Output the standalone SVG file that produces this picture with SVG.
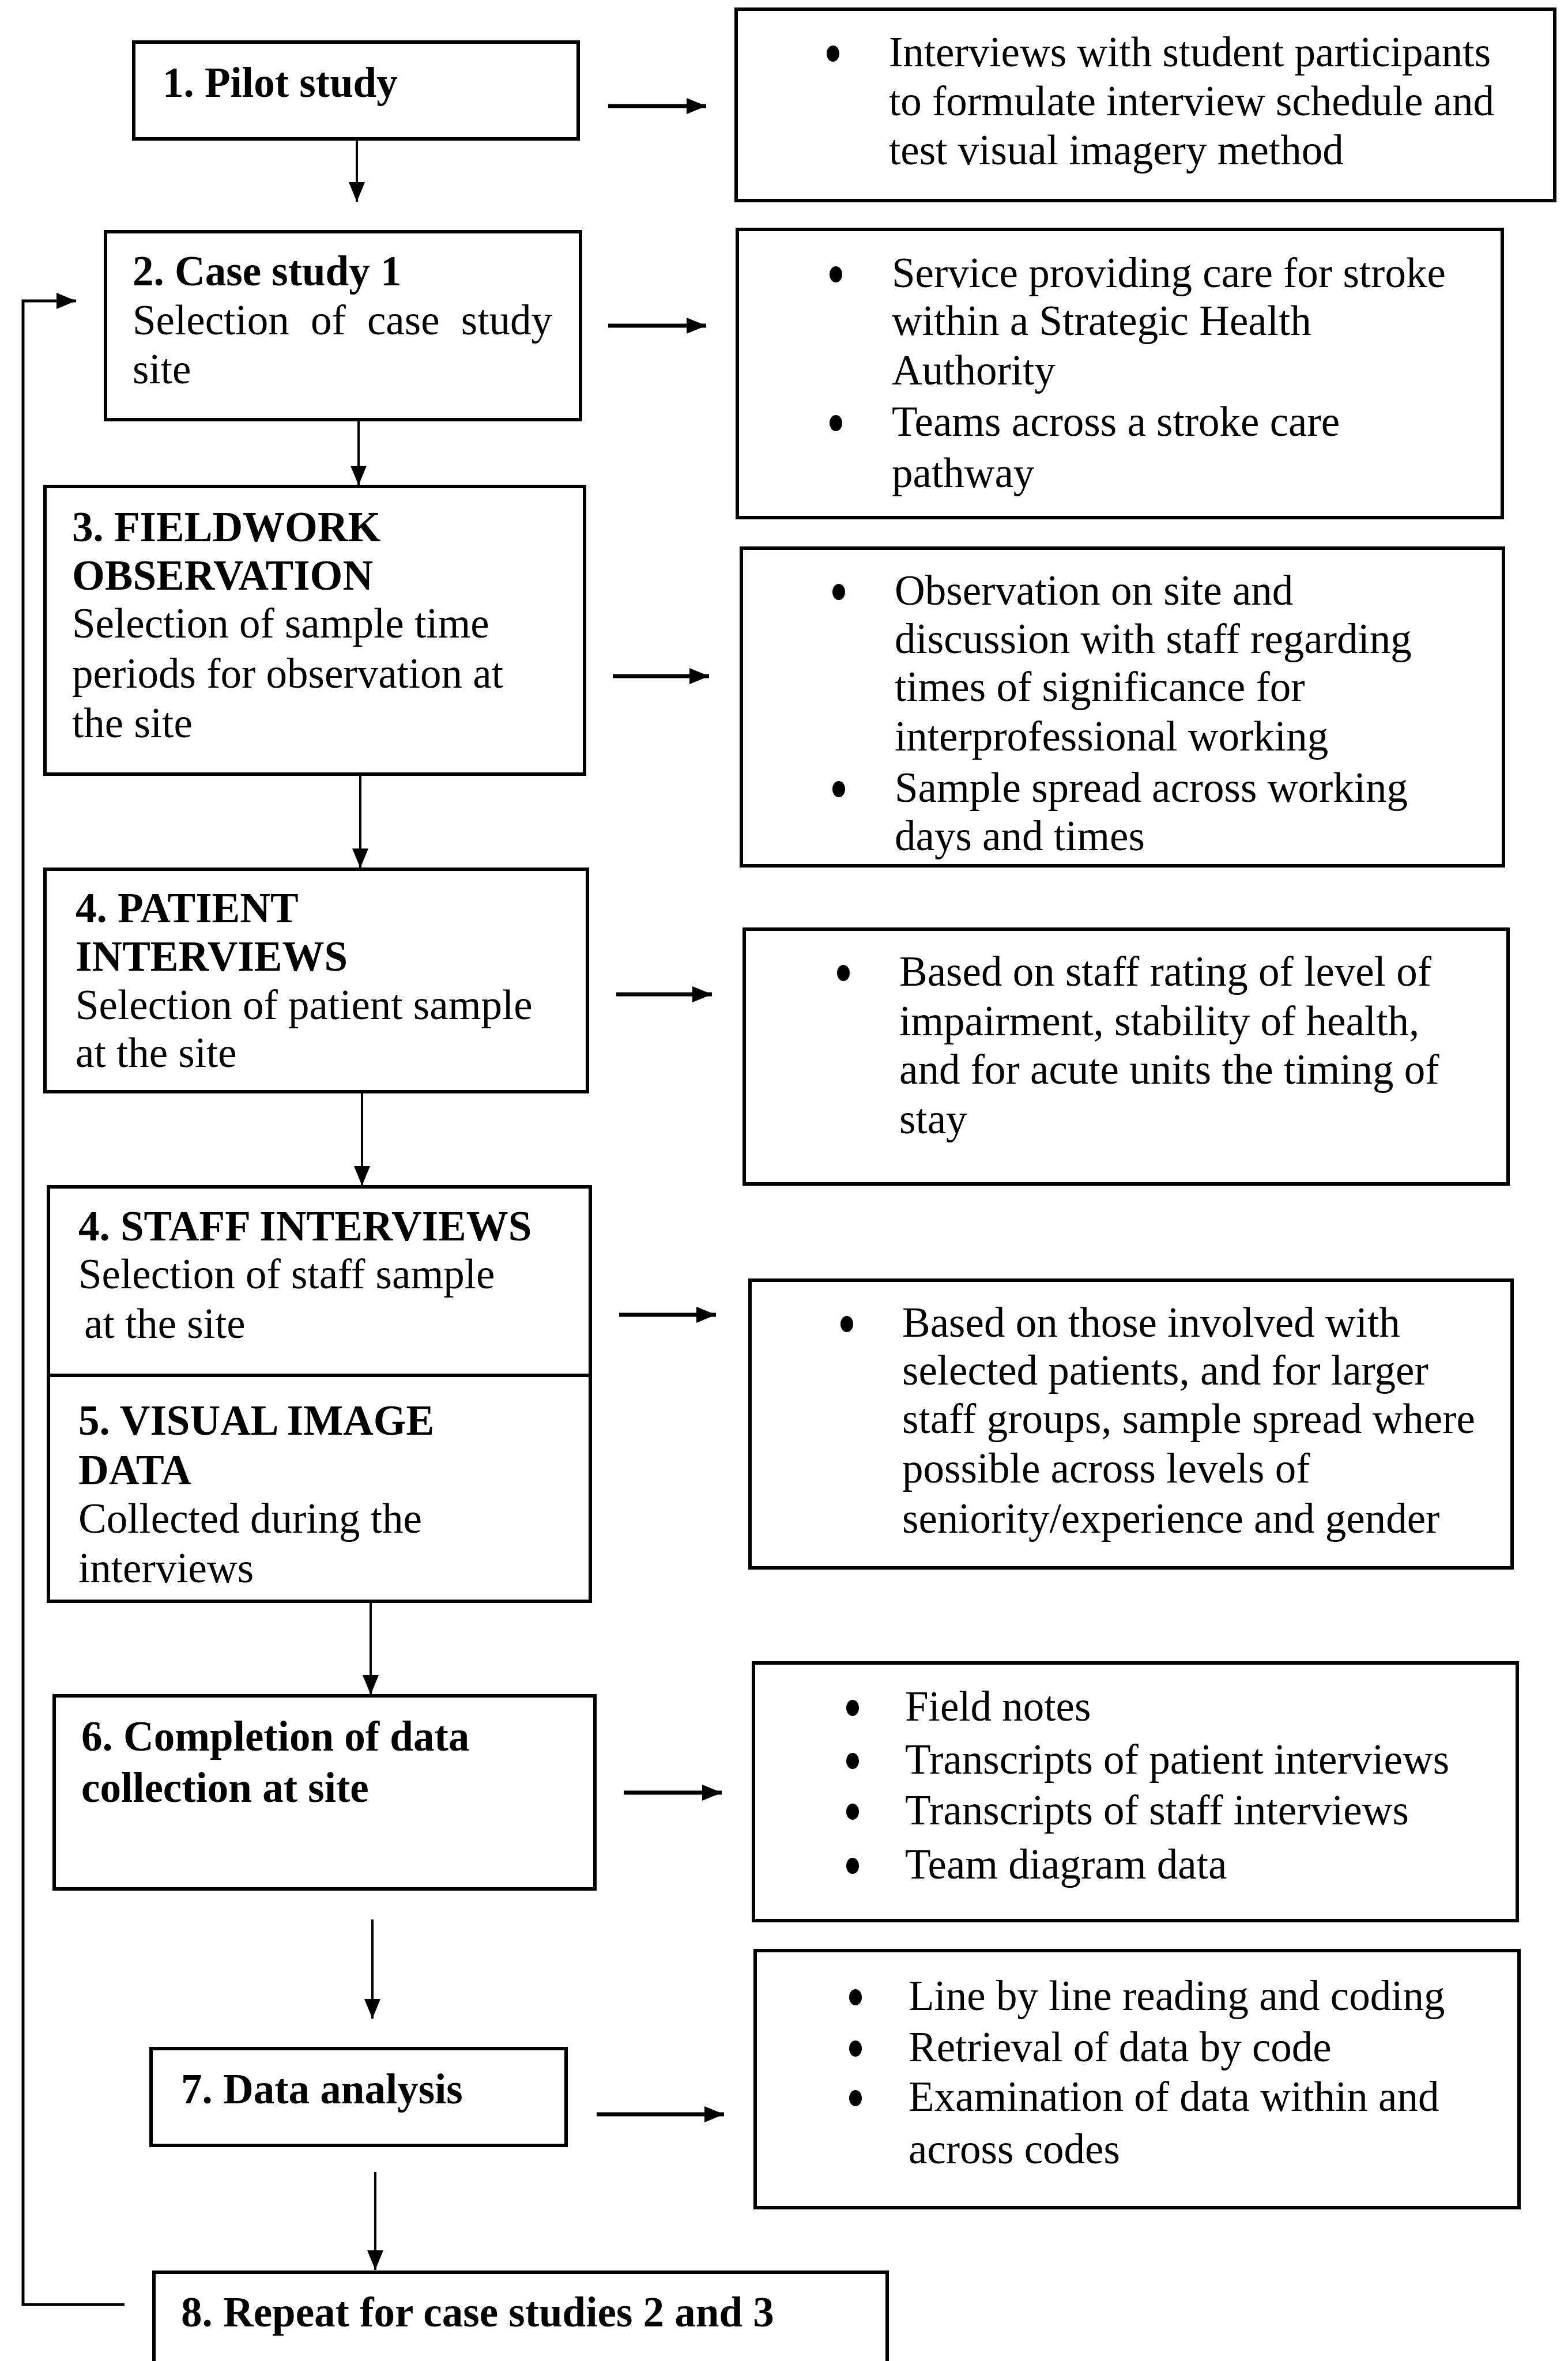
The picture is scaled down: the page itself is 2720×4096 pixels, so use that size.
<svg xmlns="http://www.w3.org/2000/svg" width="2720" height="4096" viewBox="0 0 2720 4096">
<style>
.box{fill:#fff;stroke:#000;stroke-width:6}
.t{font-family:"Liberation Serif","Times New Roman",serif;font-size:73px;fill:#000}
.b{font-weight:bold}
.c{stroke:#000;stroke-width:4;fill:none}
.h{stroke:#000;stroke-width:7;fill:none}
.dot{fill:#000}
</style>
<defs>
<marker id="arr" markerUnits="userSpaceOnUse" markerWidth="34" markerHeight="28" refX="34" refY="14" orient="auto">
<path d="M0,0 L34,14 L0,28 z" fill="#000"/>
</marker>
</defs>
<rect width="2720" height="4096" fill="#fff"/>

<g id="connectors">
<line class="h" x1="1055" y1="184" x2="1225" y2="184" marker-end="url(#arr)"/>
<line class="c" x1="619" y1="242" x2="619" y2="350" marker-end="url(#arr)"/>
<line class="h" x1="1055" y1="565" x2="1225" y2="565" marker-end="url(#arr)"/>
<line class="c" x1="622" y1="728" x2="622" y2="842" marker-end="url(#arr)"/>
<line class="h" x1="1063" y1="1173" x2="1230" y2="1173" marker-end="url(#arr)"/>
<line class="c" x1="625" y1="1343" x2="625" y2="1506" marker-end="url(#arr)"/>
<line class="h" x1="1069" y1="1725" x2="1235" y2="1725" marker-end="url(#arr)"/>
<line class="c" x1="628" y1="1894" x2="628" y2="2057" marker-end="url(#arr)"/>
<line class="h" x1="1074" y1="2281" x2="1242" y2="2281" marker-end="url(#arr)"/>
<line class="c" x1="643" y1="2778" x2="643" y2="2940" marker-end="url(#arr)"/>
<line class="h" x1="1082" y1="3110" x2="1252" y2="3110" marker-end="url(#arr)"/>
<line class="c" x1="646" y1="3330" x2="646" y2="3502" marker-end="url(#arr)"/>
<line class="h" x1="1035" y1="3668" x2="1256" y2="3668" marker-end="url(#arr)"/>
<line class="c" x1="651" y1="3768" x2="651" y2="3938" marker-end="url(#arr)"/>
<polyline class="c" style="stroke-width:5" points="216,3998 40,3998 40,522 132,522" marker-end="url(#arr)"/>
</g>

<g id="n1">
<rect class="box" x="232" y="73" width="771" height="168"/>
<text class="t b" x="282" y="168">1. Pilot study</text>
</g>
<g id="n1r">
<rect class="box" x="1277" y="16" width="1420" height="332"/>
<ellipse class="dot" cx="1445" cy="93" rx="11" ry="14"/>
<text class="t" x="1542" y="115">Interviews with student participants</text>
<text class="t" x="1542" y="200">to formulate interview schedule and</text>
<text class="t" x="1542" y="285">test visual imagery method</text>
</g>

<g id="n2">
<rect class="box" x="183" y="402" width="824" height="326"/>
<text class="t b" x="230" y="495">2. Case study 1</text>
<text class="t" x="230" y="580" word-spacing="19">Selection of case study</text>
<text class="t" x="230" y="665">site</text>
</g>
<g id="n2r">
<rect class="box" x="1279" y="398" width="1327" height="500"/>
<ellipse class="dot" cx="1450" cy="476" rx="11" ry="14"/>
<text class="t" x="1547" y="498">Service providing care for stroke</text>
<text class="t" x="1547" y="581">within a Strategic Health</text>
<text class="t" x="1547" y="667">Authority</text>
<ellipse class="dot" cx="1450" cy="734" rx="11" ry="14"/>
<text class="t" x="1547" y="756">Teams across a stroke care</text>
<text class="t" x="1547" y="845">pathway</text>
</g>

<g id="n3">
<rect class="box" x="78" y="844" width="936" height="499"/>
<text class="t b" x="125" y="939">3. FIELDWORK</text>
<text class="t b" x="125" y="1023">OBSERVATION</text>
<text class="t" x="125" y="1106">Selection of sample time</text>
<text class="t" x="125" y="1193">periods for observation at</text>
<text class="t" x="125" y="1279">the site</text>
</g>
<g id="n3r">
<rect class="box" x="1286" y="951" width="1322" height="551"/>
<ellipse class="dot" cx="1455" cy="1027" rx="11" ry="14"/>
<text class="t" x="1552" y="1049">Observation on site and</text>
<text class="t" x="1552" y="1133">discussion with staff regarding</text>
<text class="t" x="1552" y="1216">times of significance for</text>
<text class="t" x="1552" y="1302">interprofessional working</text>
<ellipse class="dot" cx="1455" cy="1369" rx="11" ry="14"/>
<text class="t" x="1552" y="1391">Sample spread across working</text>
<text class="t" x="1552" y="1475">days and times</text>
</g>

<g id="n4">
<rect class="box" x="78" y="1508" width="941" height="386"/>
<text class="t b" x="131" y="1600">4. PATIENT</text>
<text class="t b" x="131" y="1684">INTERVIEWS</text>
<text class="t" x="131" y="1768">Selection of patient sample</text>
<text class="t" x="131" y="1851">at the site</text>
</g>
<g id="n4r">
<rect class="box" x="1291" y="1612" width="1325" height="442"/>
<ellipse class="dot" cx="1463" cy="1688" rx="11" ry="14"/>
<text class="t" x="1560" y="1710">Based on staff rating of level of</text>
<text class="t" x="1560" y="1796">impairment, stability of health,</text>
<text class="t" x="1560" y="1880">and for acute units the timing of</text>
<text class="t" x="1560" y="1966">stay</text>
</g>

<g id="n4s">
<rect class="box" x="84" y="2059" width="940" height="327"/>
<text class="t b" x="136" y="2152">4. STAFF INTERVIEWS</text>
<text class="t" x="136" y="2235">Selection of staff sample</text>
<text class="t" x="146" y="2321">at the site</text>
</g>
<g id="n5">
<rect class="box" x="84" y="2386" width="940" height="392"/>
<text class="t b" x="136" y="2489">5. VISUAL IMAGE</text>
<text class="t b" x="136" y="2575">DATA</text>
<text class="t" x="136" y="2659">Collected during the</text>
<text class="t" x="136" y="2745">interviews</text>
</g>
<g id="n45r">
<rect class="box" x="1301" y="2221" width="1322" height="499"/>
<ellipse class="dot" cx="1469" cy="2297" rx="11" ry="14"/>
<text class="t" x="1565" y="2319">Based on those involved with</text>
<text class="t" x="1565" y="2402">selected patients, and for larger</text>
<text class="t" x="1565" y="2486">staff groups, sample spread where</text>
<text class="t" x="1565" y="2572">possible across levels of</text>
<text class="t" x="1565" y="2659">seniority/experience and gender</text>
</g>

<g id="n6">
<rect class="box" x="94" y="2942" width="938" height="335"/>
<text class="t b" x="141" y="3037">6. Completion of data</text>
<text class="t b" x="141" y="3126">collection at site</text>
</g>
<g id="n6r">
<rect class="box" x="1307" y="2885" width="1325" height="447"/>
<ellipse class="dot" cx="1479" cy="2963" rx="11" ry="14"/>
<text class="t" x="1570" y="2985">Field notes</text>
<ellipse class="dot" cx="1479" cy="3055" rx="11" ry="14"/>
<text class="t" x="1570" y="3077">Transcripts of patient interviews</text>
<ellipse class="dot" cx="1479" cy="3143" rx="11" ry="14"/>
<text class="t" x="1570" y="3165">Transcripts of staff interviews</text>
<ellipse class="dot" cx="1479" cy="3237" rx="11" ry="14"/>
<text class="t" x="1570" y="3259">Team diagram data</text>
</g>

<g id="n7">
<rect class="box" x="262" y="3554" width="720" height="168"/>
<text class="t b" x="314" y="3649">7. Data analysis</text>
</g>
<g id="n7r">
<rect class="box" x="1310" y="3384" width="1325" height="446"/>
<ellipse class="dot" cx="1484" cy="3465" rx="11" ry="14"/>
<text class="t" x="1576" y="3487">Line by line reading and coding</text>
<ellipse class="dot" cx="1484" cy="3554" rx="11" ry="14"/>
<text class="t" x="1576" y="3576">Retrieval of data by code</text>
<ellipse class="dot" cx="1484" cy="3640" rx="11" ry="14"/>
<text class="t" x="1576" y="3662">Examination of data within and</text>
<text class="t" x="1576" y="3753">across codes</text>
</g>

<g id="n8">
<rect class="box" x="267" y="3942" width="1272" height="200"/>
<text class="t b" x="314" y="4036">8. Repeat for case studies 2 and 3</text>
</g>
</svg>
